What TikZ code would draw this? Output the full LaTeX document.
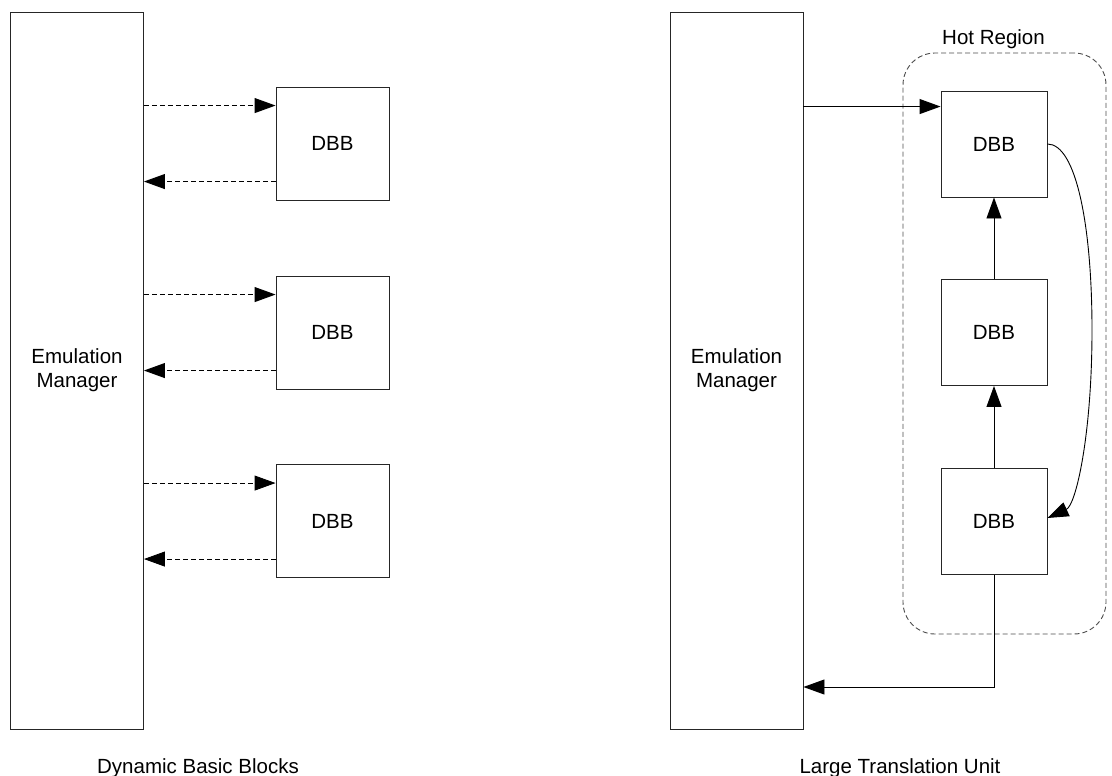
\documentclass[tikz,border=0pt]{standalone}
\usepackage{fontspec}
\setmainfont{Liberation Sans}
\usetikzlibrary{arrows.meta,calc}
\newcommand{\dfont}{\fontsize{20.5pt}{24pt}\selectfont}
\begin{document}
\begin{tikzpicture}[x=1pt,y=-1pt,
  box/.style={draw=black!85,line width=0.9pt,rectangle,inner sep=0pt,font=\dfont,align=center},
  em/.style={box,minimum width=133pt,minimum height=717pt},
  dbbl/.style={box,minimum width=113pt,minimum height=113pt},
  dbbr/.style={box,minimum width=106pt,minimum height=106pt},
  arr/.style={draw=black,line width=0.9pt,-{Triangle[length=21pt,width=15pt]}},
  darr/.style={arr,dash pattern=on 5pt off 3pt},
  hot/.style={draw=black!70,line width=0.9pt,dash pattern=on 5pt off 3pt,rounded corners=32pt,rectangle,inner sep=0pt},
  lbl/.style={font=\dfont,inner sep=0pt,anchor=base}]
\useasboundingbox (0,0) rectangle (1112,776);
% left panel
\node[em] (emL) at (77,370.5) {Emulation\\Manager};
\node[dbbl] (l1) at (332.5,143.5) {DBB};
\node[dbbl] (l2) at (332.5,332.5) {DBB};
\node[dbbl] (l3) at (332.5,521) {DBB};
\foreach \b in {l1,l2,l3}{
  \draw[darr] ([yshift=-19pt]\b.north west -| emL.east) -- ([yshift=-19pt]\b.north west);
  \draw[darr] ([yshift=-95pt]\b.north west) -- ([yshift=-95pt]\b.north west -| emL.east);
}
\node[lbl] (capL) at (198,773) {Dynamic Basic Blocks};
% right panel
\node[em] (emR) at (736.5,370.5) {Emulation\\Manager};
\node[hot,minimum width=203pt,minimum height=581pt] (hot) at (1004.5,343.5) {};
\node[lbl] (hotlbl) at (993.5,45) {Hot Region};
\node[dbbr] (r1) at (994,144) {DBB};
\node[dbbr] (r2) at (994,332.5) {DBB};
\node[dbbr] (r3) at (994,521.5) {DBB};
\draw[arr] ([yshift=-16pt]r1.north west -| emR.east) -- ([yshift=-16pt]r1.north west);
\draw[arr] (r3.north) -- (r2.south);
\draw[arr] (r2.north) -- (r1.south);
\coordinate (cmid) at (1092,330);
\draw[arr] (r1.east) .. controls (1076,144) and (1092,225) .. (cmid)
  .. controls (1092,435) and (1076,505) .. ([yshift=3.5pt]r3.east);
\coordinate (cret) at (994,687);
\draw[arr] (r3.south) |- (emR.east |- cret);
\node[lbl] (capR) at (900,773) {Large Translation Unit};
\end{tikzpicture}
\end{document}
